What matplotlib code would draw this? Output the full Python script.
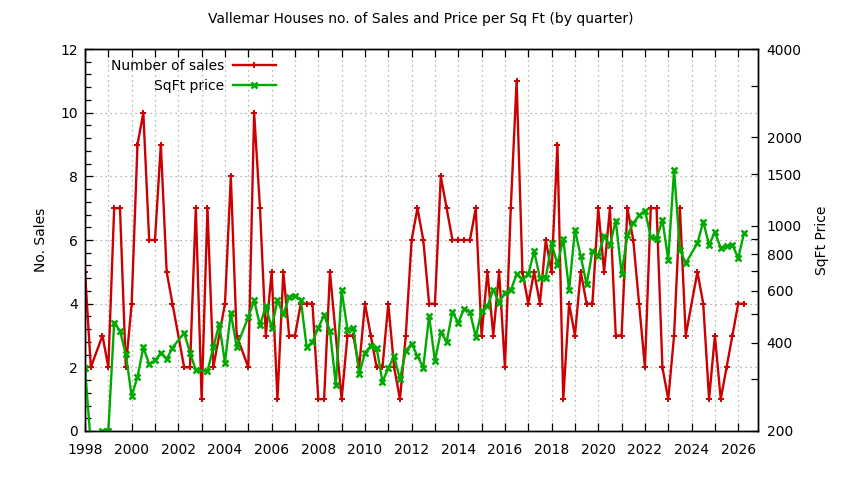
import numpy as np
import matplotlib
matplotlib.use("Agg")
import matplotlib.pyplot as plt
from matplotlib.ticker import MultipleLocator, FixedLocator, NullFormatter, FuncFormatter

# Number of sales per quarter (decimal year, count)
sales_q = [1998.0, 1998.25, 1998.75, 1999.0, 1999.25, 1999.5, 1999.75,
           2000.0, 2000.25, 2000.5, 2000.75, 2001.0, 2001.25, 2001.5, 2001.75,
           2002.25, 2002.5, 2002.75, 2003.0, 2003.25, 2003.5,
           2004.0, 2004.25, 2004.5, 2005.0, 2005.25, 2005.5, 2005.75,
           2006.0, 2006.25, 2006.5, 2006.75, 2007.0, 2007.25, 2007.5, 2007.75,
           2008.0, 2008.25, 2008.5, 2009.0, 2009.25, 2009.5, 2009.75,
           2010.0, 2010.25, 2010.5, 2010.75, 2011.0, 2011.25, 2011.5, 2011.75,
           2012.0, 2012.25, 2012.5, 2012.75, 2013.0, 2013.25, 2013.5, 2013.75,
           2014.0, 2014.25, 2014.5, 2014.75, 2015.0, 2015.25, 2015.5, 2015.75,
           2016.0, 2016.25, 2016.5, 2016.75, 2017.0, 2017.25, 2017.5, 2017.75,
           2018.0, 2018.25, 2018.5, 2018.75, 2019.0, 2019.25, 2019.5, 2019.75,
           2020.0, 2020.25, 2020.5, 2020.75, 2021.0, 2021.25, 2021.5, 2021.75,
           2022.0, 2022.25, 2022.5, 2022.75, 2023.0, 2023.25, 2023.5, 2023.75,
           2024.25, 2024.5, 2024.75, 2025.0, 2025.25, 2025.5, 2025.75,
           2026.0, 2026.25]
sales = [5, 2, 3, 2, 7, 7, 2,
         4, 9, 10, 6, 6, 9, 5, 4,
         2, 2, 7, 1, 7, 2,
         4, 8, 3, 2, 10, 7, 3,
         5, 1, 5, 3, 3, 4, 4, 4,
         1, 1, 5, 1, 3, 3, 2,
         4, 3, 2, 2, 4, 2, 1, 3,
         6, 7, 6, 4, 4, 8, 7, 6,
         6, 6, 6, 7, 3, 5, 3, 5,
         2, 7, 11, 5, 4, 5, 4, 6,
         5, 9, 1, 4, 3, 5, 4, 4,
         7, 5, 7, 3, 3, 7, 6, 4,
         2, 7, 7, 2, 1, 3, 7, 3,
         5, 4, 1, 3, 1, 2, 3,
         4, 4]

# Price per square foot per quarter
price_q = [1998.0, 1998.25, 1998.75, 1999.0, 1999.25, 1999.5, 1999.75,
           2000.0, 2000.25, 2000.5, 2000.75, 2001.0, 2001.25, 2001.5, 2001.75,
           2002.25, 2002.5, 2002.75, 2003.25, 2003.5, 2003.75,
           2004.0, 2004.25, 2004.5, 2005.0, 2005.25, 2005.5, 2005.75,
           2006.0, 2006.25, 2006.5, 2006.75, 2007.0, 2007.25, 2007.5, 2007.75,
           2008.0, 2008.25, 2008.5, 2008.75, 2009.0, 2009.25, 2009.5, 2009.75,
           2010.0, 2010.25, 2010.5, 2010.75, 2011.0, 2011.25, 2011.5, 2011.75,
           2012.0, 2012.25, 2012.5, 2012.75, 2013.0, 2013.25, 2013.5, 2013.75,
           2014.0, 2014.25, 2014.5, 2014.75, 2015.0, 2015.25, 2015.5, 2015.75,
           2016.0, 2016.25, 2016.5, 2016.75, 2017.0, 2017.25, 2017.5, 2017.75,
           2018.0, 2018.25, 2018.5, 2018.75, 2019.0, 2019.25, 2019.5, 2019.75,
           2020.0, 2020.25, 2020.5, 2020.75, 2021.0, 2021.25, 2021.5, 2021.75,
           2022.0, 2022.25, 2022.5, 2022.75, 2023.0, 2023.25, 2023.5, 2023.75,
           2024.25, 2024.5, 2024.75, 2025.0, 2025.25, 2025.5, 2025.75,
           2026.0, 2026.25]
price = [329, 180, 200, 200, 468, 438, 365,
         263, 306, 385, 338, 348, 369, 351, 384,
         432, 370, 322, 320, 385, 462,
         342, 506, 387, 489, 557, 458, 532,
         449, 557, 499, 572, 578, 560, 387, 402,
         450, 496, 438, 287, 603, 443, 449, 312,
         369, 390, 384, 294, 327, 360, 300, 375,
         397, 360, 329, 493, 346, 435, 402, 509,
         467, 522, 509, 418, 513, 532, 606, 547,
         592, 603, 683, 657, 683, 818, 665, 665,
         872, 738, 903, 603, 971, 786, 632, 819,
         792, 921, 857, 1042, 687, 927, 1023, 1084,
         1127, 919, 903, 1047, 766, 1549, 830, 746,
         872, 1034, 861, 951, 841, 850, 861,
         776, 946]

year_ticks = np.arange(1998, 2027, 2)
price_ticks = [200, 400, 600, 800, 1000, 1500, 2000, 4000]
price_minor = [300, 500, 700, 900, 3000]

red = "#cc0000"
green = "#00aa00"
grid_kw = dict(color="#a0a0a0", linestyle=(0, (1, 3)), linewidth=0.9)

plt.rcParams["font.family"] = ["DejaVu Sans"]
plt.rcParams["font.size"] = 10

fig = plt.figure(figsize=(8.44, 4.8), dpi=100)
ax = fig.add_axes([85 / 844, 49 / 480, 673.3 / 844, 382 / 480])
ax2 = ax.twinx()

l1, = ax.plot(sales_q, sales, color=red, lw=1.7, marker="+", ms=4.5, mew=1.4,
              label="Number of sales")
l2, = ax2.plot(price_q, price, color=green, lw=1.7, marker="x", ms=4, mew=1.8,
               label="SqFt price")

ax.set_xlim(1998, 2026.86)
ax.set_ylim(0, 12)
ax2.set_yscale("log")
ax2.set_ylim(200, 4000)

# ticks
ax.xaxis.set_major_locator(FixedLocator(year_ticks))
ax.xaxis.set_minor_locator(MultipleLocator(1))
ax.yaxis.set_major_locator(MultipleLocator(2))
ax.yaxis.set_minor_locator(MultipleLocator(0.4))
ax.tick_params(which="both", direction="in", top=True, right=False, width=0.9)
ax.tick_params(which="major", length=6)
ax.tick_params(which="minor", length=4)
ax.tick_params(axis="x", which="minor", length=6)
ax.tick_params(axis="x", pad=9)
ax.tick_params(axis="y", pad=5)

ax2.yaxis.set_major_locator(FixedLocator(price_ticks))
ax2.yaxis.set_minor_locator(FixedLocator(price_minor))
ax2.yaxis.set_major_formatter(FuncFormatter(lambda v, p: "%d" % v))
ax2.yaxis.set_minor_formatter(NullFormatter())
ax2.tick_params(which="both", direction="in", length=5, width=0.9, pad=6)

for a in (ax, ax2):
    for s in a.spines.values():
        s.set_linewidth(1.0)

# grid
ax.grid(True, which="major", axis="y", **grid_kw)
ax.grid(True, which="both", axis="x", **grid_kw)
ax.set_axisbelow(True)

# legend, gnuplot style: text right-aligned, sample to the right
leg1 = ax2.legend(handles=[l1], loc="center right", bbox_to_anchor=(0.2837, 0.956),
                  frameon=False, markerfirst=False, borderpad=0, borderaxespad=0,
                  handlelength=3.1, handletextpad=0.65, fontsize=10)
ax2.add_artist(leg1)
ax2.legend(handles=[l2], loc="center right", bbox_to_anchor=(0.2837, 0.904),
           frameon=False, markerfirst=False, borderpad=0, borderaxespad=0,
           handlelength=3.1, handletextpad=0.65, fontsize=10)

fig.text(421 / 844, 1 - 19 / 480,
         "Vallemar Houses no. of Sales and Price per Sq Ft (by quarter)",
         ha="center", va="center", fontsize=10)
fig.text(41 / 844, 0.5, "No. Sales", rotation=90, ha="center", va="center", fontsize=10)
fig.text(822 / 844, 0.5, "SqFt Price", rotation=90, ha="center", va="center", fontsize=10)

fig.savefig("out.png", dpi=100)
